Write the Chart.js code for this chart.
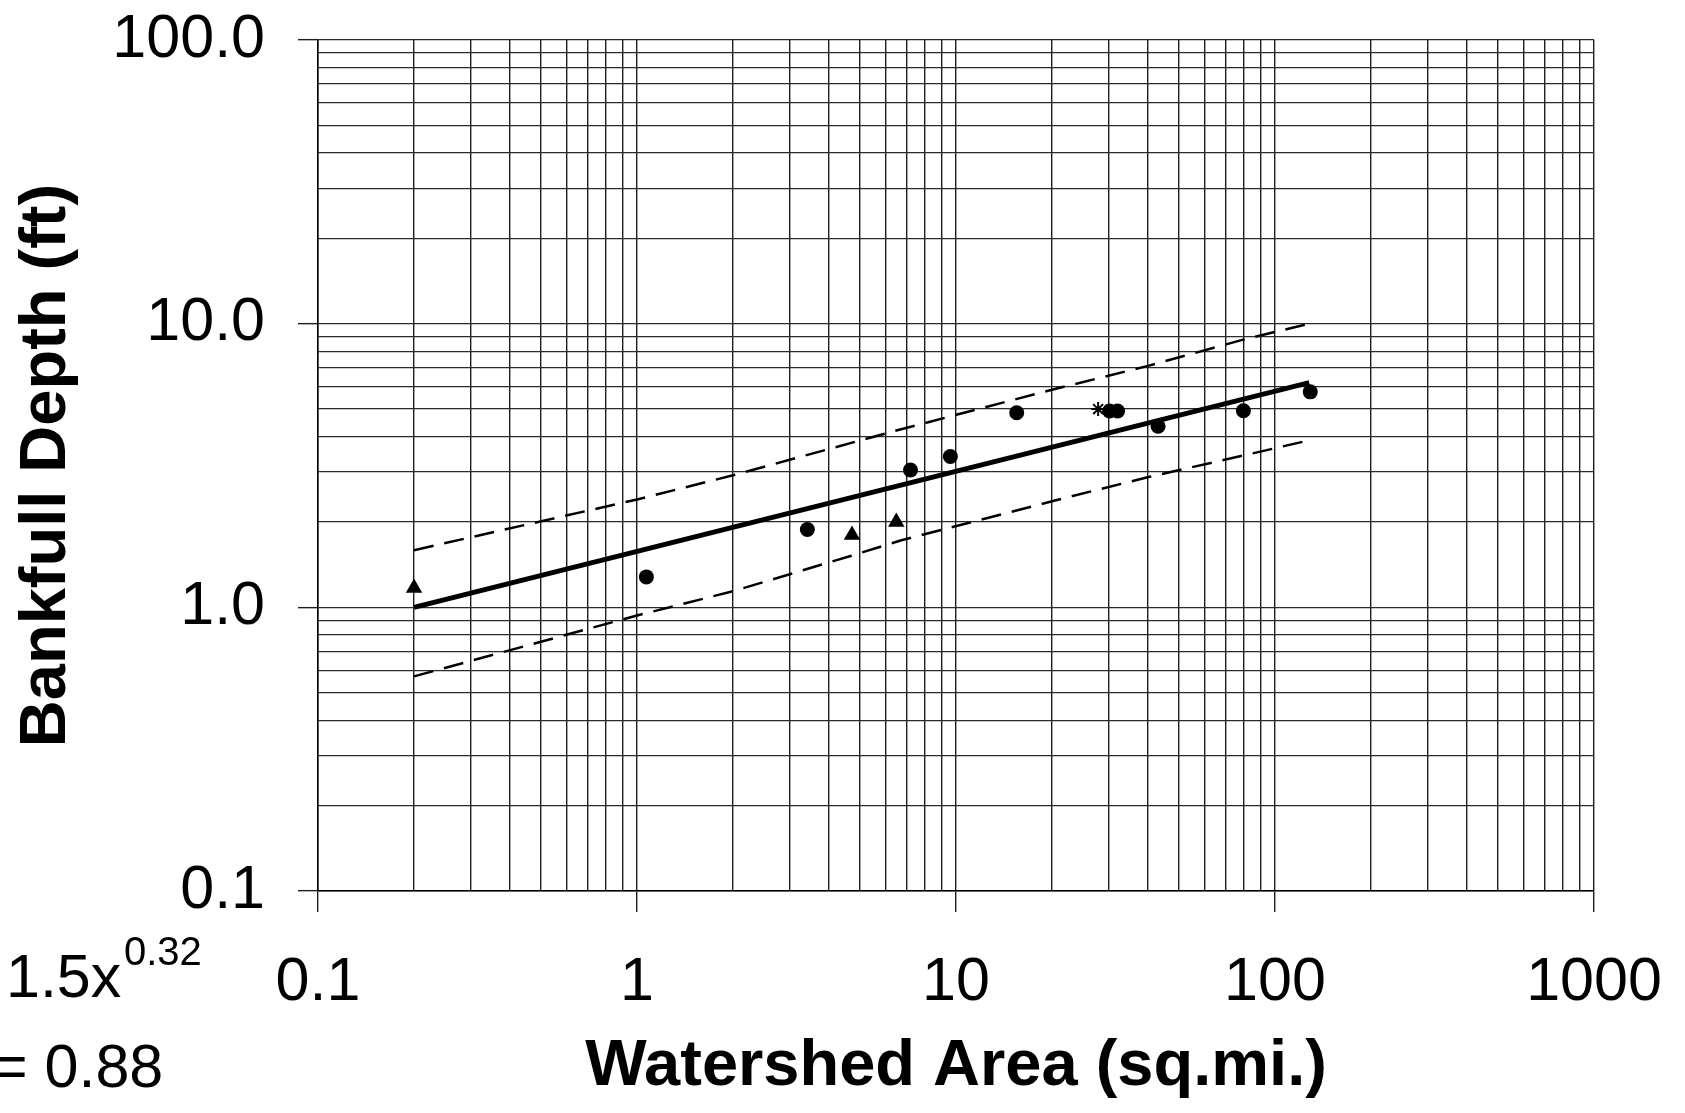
<!DOCTYPE html>
<html><head><meta charset="utf-8">
<script src="https://cdn.jsdelivr.net/npm/chart.js@4"></script>
<style>html,body{margin:0;padding:0;background:#fff;}canvas{display:block;}</style>
</head><body>
<canvas id="c" width="1685" height="1113"></canvas>
<script>
// ---- data ----
const circleArea  = [1.07, 3.42, 7.2, 9.6, 15.5, 30.3, 32.1, 43, 79.6, 129];
const circleDepth = [1.28, 1.88, 3.05, 3.4, 4.85, 4.92, 4.92, 4.35, 4.93, 5.75];
const triangleArea  = [0.2, 4.72, 6.5];
const triangleDepth = [1.17, 1.80, 2.0];
const starArea  = [27.9];
const starDepth = [5.0];
const fitArea  = [0.2, 128];
const fitDepth = [1.0, 6.2];
const upperArea  = [0.2, 1, 2, 6.5, 20, 40, 80, 128];
const upperDepth = [1.59, 2.4, 2.92, 4.2, 5.85, 7.1, 8.8, 10.0];
const lowerArea  = [0.2, 1, 2, 4.7, 6.7, 20.7, 39.6, 79.6, 128];
const lowerDepth = [0.571, 0.936, 1.14, 1.52, 1.72, 2.39, 2.87, 3.43, 3.88];

const xTickValues = [0.1, 1, 10, 100, 1000];
const xTickLabels = ['0.1', '1', '10', '100', '1000'];
const yTickValues = [0.1, 1, 10, 100];
const yTickLabels = ['0.1', '1.0', '10.0', '100.0'];
const xTitle = 'Watershed Area (sq.mi.)';
const yTitle = 'Bankfull Depth (ft)';
const eqMain = '1.5x', eqExp = '0.32', r2Text = '= 0.88';

// ---- helpers ----
function pts(xs, ys) { return xs.map((x, i) => ({x: x, y: ys[i]})); }
function gridValues(min, max) {
  const out = [];
  for (let e = Math.round(Math.log10(min)); e < Math.round(Math.log10(max)); e++) {
    for (let k = 1; k < 10; k++) out.push(Number((k * Math.pow(10, e)).toPrecision(6)));
  }
  out.push(max);
  return out;
}
function tickBuilder(majors) {
  return function(scale) {
    scale.ticks = gridValues(scale.options.min, scale.options.max)
      .map(v => ({value: v, major: majors.includes(v)}));
  };
}
const FONT = "'Liberation Sans', Arial, sans-serif";

const equationPlugin = {
  id: 'equation',
  afterDraw(chart) {
    const ctx = chart.ctx;
    ctx.save();
    ctx.fillStyle = '#000';
    ctx.textAlign = 'left';
    ctx.textBaseline = 'alphabetic';
    ctx.font = '61px ' + FONT;
    ctx.fillText(eqMain, 6, 997);
    ctx.fillText(r2Text, -8, 1087);
    ctx.font = '40px ' + FONT;
    ctx.fillText(eqExp, 124, 965);
    ctx.restore();
  }
};

const gridCommon = {
  color: '#1e1e1e',
  lineWidth: 1.4,
  drawTicks: true,
  tickWidth: 1.4,
  tickColor: c => (c.tick && c.tick.major) ? '#1e1e1e' : 'rgba(0,0,0,0)'
};

new Chart(document.getElementById('c'), {
  type: 'scatter',
  data: {
    datasets: [
      {data: pts(fitArea, fitDepth), showLine: true, borderColor: '#000', borderWidth: 5,
       pointRadius: 0, fill: false, order: 3},
      {data: pts(upperArea, upperDepth), showLine: true, borderColor: '#000', borderWidth: 2.5,
       borderDash: [20, 11], pointRadius: 0, fill: false, order: 4},
      {data: pts(lowerArea, lowerDepth), showLine: true, borderColor: '#000', borderWidth: 2.5,
       borderDash: [20, 11], pointRadius: 0, fill: false, order: 4},
      {data: pts(circleArea, circleDepth), pointStyle: 'circle', pointRadius: 7.5,
       backgroundColor: '#000', borderColor: '#000', borderWidth: 0, order: 1},
      {data: pts(triangleArea, triangleDepth), pointStyle: 'triangle', pointRadius: 9.5,
       backgroundColor: '#000', borderColor: '#000', borderWidth: 0, order: 1},
      {data: pts(starArea, starDepth), pointStyle: 'star', pointRadius: 7,
       backgroundColor: '#000', borderColor: '#000', borderWidth: 2, order: 1}
    ]
  },
  options: {
    responsive: false,
    maintainAspectRatio: false,
    animation: false,
    layout: {padding: {top: 40, right: 91, bottom: 0, left: 0}},
    plugins: {legend: {display: false}, tooltip: {enabled: false}},
    scales: {
      x: {
        type: 'logarithmic', min: 0.1, max: 1000,
        afterBuildTicks: tickBuilder(xTickValues),
        afterFit: s => { s.height = 222; s.paddingLeft = 0; s.paddingRight = 0; },
        grid: Object.assign({}, gridCommon, {tickLength: 21}),
        border: {display: true, color: '#000', width: 1.5},
        ticks: {
          autoSkip: false, maxRotation: 0, minRotation: 0, padding: 35, color: '#000',
          font: {family: FONT, size: 61, lineHeight: 1.2},
          callback: v => { const i = xTickValues.indexOf(v); return i >= 0 ? xTickLabels[i] : ''; }
        },
        title: {display: true, text: xTitle, color: '#000',
                font: {family: FONT, size: 65, weight: 'bold', lineHeight: 1},
                padding: {top: 0, bottom: 13}}
      },
      y: {
        type: 'logarithmic', min: 0.1, max: 100,
        afterBuildTicks: tickBuilder(yTickValues),
        afterFit: s => { s.width = 318; s.paddingTop = 0; s.paddingBottom = 0; },
        grid: Object.assign({}, gridCommon, {tickLength: 20, color: '#2a2a2a', lineWidth: 1.3}),
        border: {display: true, color: '#000', width: 1.5},
        ticks: {
          autoSkip: false, padding: 33, color: '#000',
          font: {family: FONT, size: 61, lineHeight: 1.2},
          callback: v => { const i = yTickValues.indexOf(v); return i >= 0 ? yTickLabels[i] : ''; }
        },
        title: {display: true, text: yTitle, color: '#000',
                font: {family: FONT, size: 65, weight: 'bold', lineHeight: 1},
                padding: {top: 15, bottom: 0}}
      }
    }
  },
  plugins: [equationPlugin]
});
</script>
</body></html>
